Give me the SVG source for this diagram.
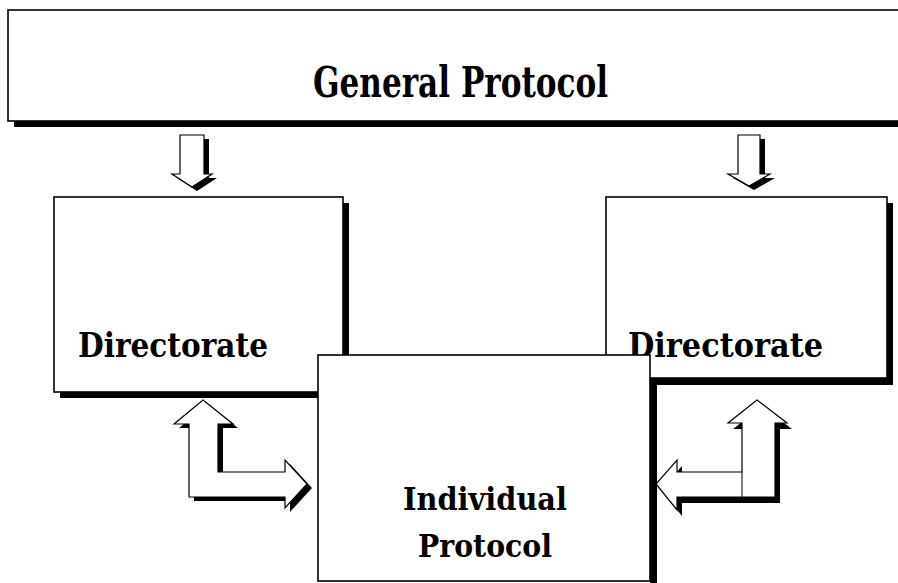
<svg xmlns="http://www.w3.org/2000/svg" width="898" height="583" viewBox="0 0 898 583">
<style>
.box{fill:#fff;stroke:#000;stroke-width:1.6}
.sh{fill:#000;stroke:none}
.lbl{font-family:"DejaVu Serif","Liberation Serif",serif;font-weight:bold;fill:#000}
.arr{fill:#fff;stroke:#000;stroke-width:1.2;stroke-linejoin:miter}
.ash{fill:#000;stroke:none}
</style>
<rect width="898" height="583" fill="#fff"/>
<g id="general">
  <rect class="sh" x="14" y="16" width="890" height="111"/>
  <rect class="box" x="8" y="10" width="895" height="111"/>
  <text class="lbl" x="313" y="97" font-size="43" textLength="295" lengthAdjust="spacingAndGlyphs">General Protocol</text>
</g>
<g id="directorate-left">
  <rect class="sh" x="60" y="203" width="289" height="195"/>
  <rect class="box" x="54" y="197" width="289" height="195"/>
  <text class="lbl" x="78" y="357" font-size="33" textLength="190" lengthAdjust="spacingAndGlyphs">Directorate</text>
</g>
<g id="directorate-right">
  <rect class="sh" x="612" y="203" width="281" height="182"/>
  <rect class="box" x="606" y="197" width="281" height="181"/>
  <text class="lbl" x="628" y="357" font-size="33" textLength="195" lengthAdjust="spacingAndGlyphs">Directorate</text>
</g>
<g id="individual">
  <rect class="sh" x="650" y="381" width="7" height="210"/>
  <rect class="box" x="318" y="355" width="332" height="226"/>
  <text class="lbl" x="485" y="510" font-size="32" text-anchor="middle" textLength="164" lengthAdjust="spacingAndGlyphs">Individual</text>
  <text class="lbl" x="485" y="557" font-size="32" text-anchor="middle" textLength="134" lengthAdjust="spacingAndGlyphs">Protocol</text>
</g>
<g id="connectors">
  <g id="down-left">
    <polygon class="ash" transform="translate(5,4)" points="180,135 204,135 204,174 212,174 192,187 172,174 180,174"/>
    <polygon class="arr" points="180,135 204,135 204,174 212,174 192,187 172,174 180,174"/>
  </g>
  <g id="down-right">
    <polygon class="ash" transform="translate(5,4)" points="738,135 760,135 760,174 770,174 749,186 728,174 738,174"/>
    <polygon class="arr" points="738,135 760,135 760,174 770,174 749,186 728,174 738,174"/>
  </g>
  <g id="link-left">
    <polygon class="ash" transform="translate(5,4)" points="203,400 233,424 218,424 218,472 285,472 285,460 307,484 285,508 285,497 189,497 189,424 174,424"/>
    <polygon class="arr" points="203,400 233,424 218,424 218,472 285,472 285,460 307,484 285,508 285,497 189,497 189,424 174,424"/>
  </g>
  <g id="link-right">
    <polygon class="ash" transform="translate(5,6)" points="757,400 787,423 775,423 775,497 677,497 677,510 656,484 677,460 677,472 742,472 742,423 728,423"/>
    <polygon class="arr" points="757,400 787,423 775,423 775,497 677,497 677,510 656,484 677,460 677,472 742,472 742,423 728,423"/>
    <line x1="742" y1="472" x2="742" y2="497" stroke="#000" stroke-width="1"/>
  </g>
</g>
</svg>
